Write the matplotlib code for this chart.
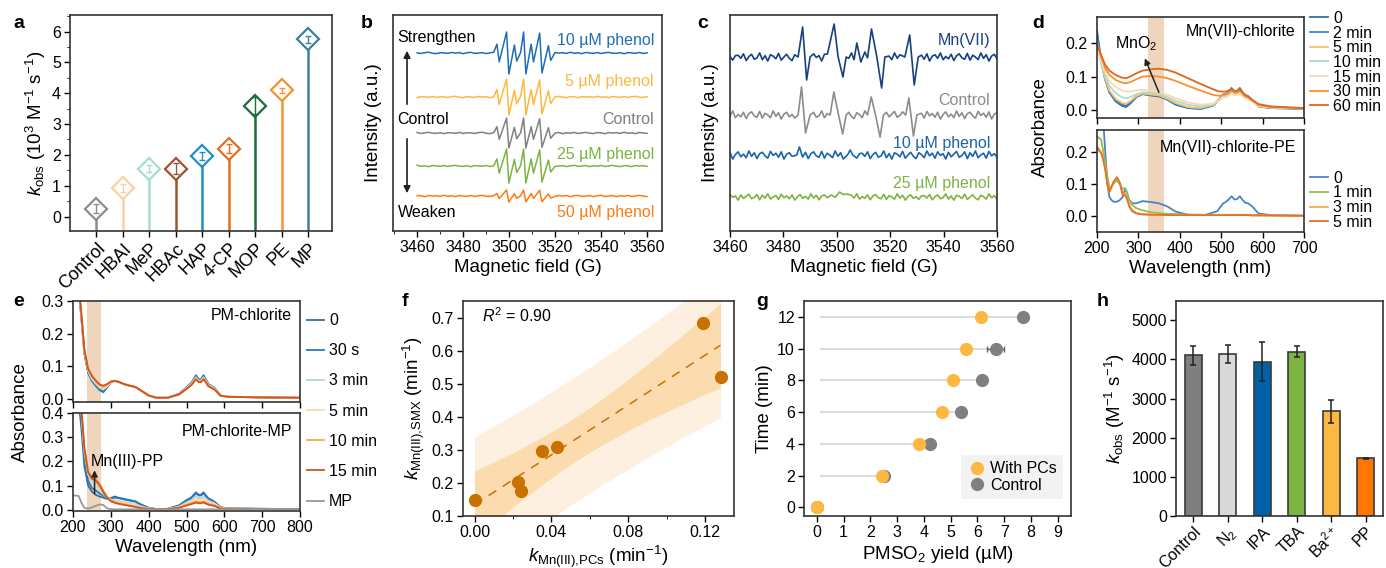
import numpy as np
import matplotlib.pyplot as plt
from matplotlib.lines import Line2D
from matplotlib.ticker import MultipleLocator

# ---------------- panel a : k_obs of phenolic compounds ----------------
A_LABELS = ["Control", "HBAI", "MeP", "HBAc", "HAP", "4-CP", "MOP", "PE", "MP"]
A_KOBS = [0.25, 0.92, 1.55, 1.55, 1.97, 2.20, 3.60, 4.10, 5.75]
A_ERR = [0.15, 0.12, 0.12, 0.18, 0.12, 0.14, 0.28, 0.08, 0.12]
A_COLORS = ["#8c8c8c", "#fdd0a2", "#a8dccf", "#a0522d", "#1f8fc8",
            "#e0701c", "#1e6b3c", "#f7922e", "#3d7f9e"]

# ---------------- panel b : EPR, DMPOX signal vs phenol ----------------
B_NAMES = ["10 µM phenol", "5 µM phenol", "Control", "25 µM phenol", "50 µM phenol"]
B_AMP = [21, 18, 15, 17, 6]
B_COLORS = ["#1f6db5", "#fdb93f", "#808080", "#7cb342", "#ff7a12"]
B_LINE_FIELD = [3495.2, 3499.4, 3502.8, 3506.8, 3510.1, 3513.8, 3517.6]
B_LINE_REL = [0.42, 1.0, 0.38, 1.0, 0.42, 0.95, 0.35]

# ---------------- panel c : EPR, Mn(VII) etc. ----------------
C_NAMES = ["Mn(VII)", "Control", "10 µM phenol", "25 µM phenol"]
C_COLORS = ["#17407f", "#8c8c8c", "#1a63ad", "#7cb342"]
C_MN7_FIELD = [3485.5, 3487.2, 3488.7, 3490.0, 3496.5, 3499.0, 3500.5, 3502.3, 3503.5,
               3505.5, 3507.5, 3509.0, 3510.5, 3513.0, 3515.0, 3516.8, 3518.0,
               3525.5, 3527.3, 3529.0, 3530.5]
C_MN7_SIG = [0, 30, -23, 0, 3, 33, 0, -20, 0, 4, 14, -5, 5, 28, 0, -31, 0, 0, 22, -28, 0]
C_CTRL_FIELD = [3485.5, 3486.8, 3488.3, 3490.0, 3497.5, 3498.9, 3500.5, 3502.2, 3503.5,
                3511.5, 3512.9, 3514.5, 3516.2, 3517.5, 3525.8, 3527.0, 3528.7, 3530.0]
C_CTRL_SIG = [0, 28, -18, 0, 0, 23, 2, -19, 0, 0, 18, 0, -22, 0, 0, 17, -21, 0]
C_P10_FIELD = [3485.0, 3486.0, 3487.2, 3504.0, 3505.0, 3506.0]
C_P10_SIG = [0, 8, -2, 0, 5, 0]
C_P25_FIELD = [3498.0, 3501.0, 3504.0]
C_P25_SIG = [2, 5, 3]

# hand-read baseline wiggle of the EPR traces (b coarse, c fine)
EPR_NOISE = [0.2, -0.6, 0.5, 0.9, -0.3, -0.8, 0.4, 0.1, -0.5, 0.7, -0.2, 0.6, -0.9, 0.3,
             0.8, -0.4, -0.1, 0.5, -0.7, 0.2, 0.9, -0.5, 0.0, 0.6, -0.8, 0.4, -0.3, 0.7,
             -0.6, 0.1, 0.8, -0.2, -0.7, 0.5, 0.3, -0.9, 0.6, -0.1, 0.4, -0.5, 0.9, -0.3,
             0.2, -0.8, 0.7, 0.0, -0.4, 0.6, -0.6, 0.3, 0.8, -0.2, -0.5, 0.4, -0.9, 0.5,
             0.1, -0.3, 0.7, -0.6, 0.2]
EPR_NOISE_FINE = [0.4, -0.3, 0.7, -0.8, 0.1, 0.6, -0.5, -0.2, 0.9, -0.6, 0.3, -0.9, 0.5, 0.2,
                  -0.4, 0.8, -0.7, 0.0, 0.6, -0.3, -0.8, 0.5, 0.1, -0.6, 0.9, -0.2, 0.4, -0.7,
                  0.7, -0.1, 0.3, -0.9, 0.6, -0.4, 0.2, 0.8, -0.5, -0.1, 0.7, -0.8, 0.5, -0.3,
                  0.9, -0.6, 0.0, 0.4, -0.7, 0.8, -0.2, 0.3, -0.5, 0.6, -0.9, 0.1, 0.7, -0.4,
                  0.2, -0.6, 0.9, -0.3, 0.5, -0.8, 0.3, 0.6, -0.2, -0.7, 0.8, -0.1, 0.4, -0.5,
                  0.7, -0.9, 0.2, 0.5, -0.3, 0.9, -0.6, 0.1, -0.4, 0.6, -0.8, 0.3, 0.7, -0.2,
                  -0.5, 0.8, -0.7, 0.4, 0.0, -0.6, 0.9, -0.3, 0.5, -0.9, 0.2, 0.6, -0.4, 0.1,
                  -0.7, 0.3]

# ---------------- panel d : UV-vis Mn(VII)-chlorite ----------------
D_TOP_WL = [200, 210, 220, 230, 245, 260, 270, 280, 295, 310, 330, 350, 370, 390, 420, 450,
            480, 495, 505, 512, 518, 525, 532, 538, 545, 552, 558, 565, 575, 590, 620, 700]
D_TOP_LABELS = ["0", "2 min", "5 min", "10 min", "15 min", "30 min", "60 min"]
D_TOP_COLORS = ["#2e6ea6", "#3a87c8", "#fdc160", "#a8dcd4", "#fdd7b0", "#fd8f2f", "#e0661c"]
D_TOP_ABS = [
    [0.240, 0.150, 0.090, 0.052, 0.025, 0.012, 0.008, 0.018, 0.038, 0.047, 0.043, 0.040, 0.030, 0.015, 0.005, 0.002,
     0.012, 0.030, 0.045, 0.046, 0.052, 0.062, 0.052, 0.053, 0.062, 0.050, 0.042, 0.040, 0.028, 0.010, 0.005, 0.003],
    [0.230, 0.145, 0.090, 0.054, 0.028, 0.016, 0.012, 0.022, 0.040, 0.048, 0.045, 0.042, 0.032, 0.017, 0.006, 0.003,
     0.013, 0.031, 0.047, 0.048, 0.055, 0.066, 0.055, 0.056, 0.066, 0.052, 0.044, 0.041, 0.029, 0.011, 0.005, 0.003],
    [0.205, 0.140, 0.092, 0.058, 0.033, 0.021, 0.018, 0.026, 0.041, 0.049, 0.046, 0.043, 0.033, 0.020, 0.008, 0.005,
     0.014, 0.030, 0.044, 0.045, 0.051, 0.059, 0.051, 0.052, 0.059, 0.048, 0.041, 0.038, 0.027, 0.011, 0.006, 0.004],
    [0.195, 0.140, 0.100, 0.072, 0.050, 0.038, 0.035, 0.038, 0.046, 0.052, 0.052, 0.048, 0.038, 0.027, 0.015, 0.010,
     0.015, 0.028, 0.040, 0.041, 0.047, 0.055, 0.048, 0.049, 0.055, 0.045, 0.039, 0.036, 0.026, 0.012, 0.007, 0.004],
    [0.200, 0.150, 0.112, 0.087, 0.068, 0.058, 0.055, 0.055, 0.058, 0.060, 0.058, 0.055, 0.045, 0.035, 0.022, 0.015,
     0.018, 0.028, 0.037, 0.038, 0.043, 0.050, 0.044, 0.045, 0.050, 0.041, 0.036, 0.033, 0.024, 0.012, 0.007, 0.004],
    [0.200, 0.160, 0.125, 0.105, 0.090, 0.082, 0.080, 0.083, 0.092, 0.100, 0.102, 0.100, 0.095, 0.087, 0.072, 0.058,
     0.045, 0.042, 0.045, 0.046, 0.050, 0.058, 0.052, 0.052, 0.058, 0.048, 0.040, 0.037, 0.028, 0.015, 0.008, 0.004],
    [0.200, 0.165, 0.135, 0.118, 0.105, 0.097, 0.095, 0.100, 0.110, 0.118, 0.122, 0.124, 0.120, 0.112, 0.095, 0.078,
     0.062, 0.055, 0.055, 0.055, 0.058, 0.062, 0.057, 0.057, 0.062, 0.052, 0.045, 0.040, 0.030, 0.017, 0.010, 0.005],
]

D_BOT_WL = [200, 205, 210, 215, 220, 225, 230, 235, 240, 248, 255, 262, 268, 272, 278, 285, 295, 310, 330, 350,
            370, 390, 420, 460, 490, 505, 512, 518, 525, 532, 538, 545, 552, 558, 565, 575, 590, 620, 700]
D_BOT_LABELS = ["0", "1 min", "3 min", "5 min"]
D_BOT_COLORS = ["#4a84c4", "#8cc152", "#fca74e", "#e8702a"]
D_BOT_ABS = [
    [0.400, 0.380, 0.350, 0.300, 0.200, 0.100, 0.060, 0.050, 0.045, 0.045, 0.050, 0.060, 0.085, 0.075, 0.050, 0.040,
     0.040, 0.047, 0.044, 0.040, 0.030, 0.014, 0.004, 0.003, 0.015, 0.040, 0.045, 0.052, 0.062, 0.052, 0.053, 0.062,
     0.050, 0.042, 0.040, 0.030, 0.008, 0.003, 0.001],
    [0.250, 0.245, 0.240, 0.205, 0.165, 0.125, 0.088, 0.092, 0.102, 0.112, 0.100, 0.085, 0.088, 0.075, 0.050, 0.035,
     0.025, 0.018, 0.012, 0.009, 0.007, 0.006, 0.005, 0.004, 0.004, 0.004, 0.004, 0.004, 0.004, 0.004, 0.004, 0.004,
     0.004, 0.004, 0.004, 0.003, 0.003, 0.002, 0.001],
    [0.220, 0.210, 0.200, 0.180, 0.150, 0.100, 0.075, 0.090, 0.105, 0.120, 0.105, 0.070, 0.070, 0.060, 0.035, 0.018,
     0.010, 0.006, 0.005, 0.004, 0.004, 0.004, 0.003, 0.003, 0.003, 0.003, 0.003, 0.003, 0.003, 0.003, 0.003, 0.003,
     0.003, 0.003, 0.003, 0.002, 0.002, 0.002, 0.001],
    [0.215, 0.205, 0.198, 0.175, 0.145, 0.100, 0.077, 0.092, 0.108, 0.122, 0.105, 0.065, 0.065, 0.055, 0.030, 0.015,
     0.008, 0.005, 0.004, 0.004, 0.003, 0.003, 0.003, 0.003, 0.003, 0.003, 0.003, 0.003, 0.003, 0.003, 0.003, 0.003,
     0.003, 0.003, 0.003, 0.002, 0.002, 0.002, 0.001],
]

# ---------------- panel e : UV-vis PM-chlorite ----------------
E_WL = [200, 215, 222, 230, 240, 250, 260, 270, 280, 290, 300, 310, 320, 335, 350, 365, 380, 400,
        420, 450, 480, 500, 512, 518, 525, 532, 538, 545, 552, 558, 565, 575, 590, 610, 700, 800]
E_LABELS = ["0", "30 s", "3 min", "5 min", "10 min", "15 min"]
E_COLORS = ["#336e9a", "#2878c0", "#a8dcd8", "#fdd5ae", "#fda745", "#d4521c"]
E_TOP_ABS = [
    [0.600, 0.340, 0.250, 0.140, 0.080, 0.055, 0.040, 0.027, 0.020, 0.035, 0.050, 0.055, 0.052, 0.045, 0.040, 0.036, 0.025, 0.010,
     0.003, 0.003, 0.015, 0.035, 0.048, 0.058, 0.072, 0.060, 0.060, 0.072, 0.058, 0.045, 0.040, 0.032, 0.010, 0.006, 0.004, 0.003],
    [0.600, 0.340, 0.250, 0.140, 0.080, 0.056, 0.042, 0.029, 0.022, 0.036, 0.050, 0.055, 0.052, 0.045, 0.040, 0.036, 0.025, 0.010,
     0.003, 0.003, 0.015, 0.035, 0.047, 0.057, 0.070, 0.059, 0.059, 0.070, 0.057, 0.044, 0.039, 0.031, 0.010, 0.006, 0.004, 0.003],
    [0.600, 0.345, 0.255, 0.145, 0.085, 0.060, 0.046, 0.034, 0.028, 0.038, 0.050, 0.055, 0.052, 0.045, 0.040, 0.036, 0.025, 0.010,
     0.003, 0.003, 0.014, 0.033, 0.045, 0.054, 0.066, 0.056, 0.056, 0.066, 0.054, 0.042, 0.038, 0.030, 0.010, 0.006, 0.004, 0.003],
    [0.600, 0.345, 0.258, 0.148, 0.088, 0.064, 0.050, 0.038, 0.032, 0.040, 0.051, 0.055, 0.052, 0.045, 0.040, 0.036, 0.025, 0.010,
     0.003, 0.003, 0.014, 0.032, 0.044, 0.052, 0.064, 0.054, 0.054, 0.064, 0.052, 0.041, 0.037, 0.029, 0.010, 0.006, 0.004, 0.003],
    [0.600, 0.350, 0.260, 0.150, 0.090, 0.068, 0.054, 0.042, 0.037, 0.043, 0.052, 0.055, 0.052, 0.045, 0.040, 0.036, 0.025, 0.010,
     0.003, 0.003, 0.013, 0.030, 0.042, 0.050, 0.061, 0.052, 0.052, 0.061, 0.050, 0.039, 0.035, 0.028, 0.009, 0.006, 0.004, 0.003],
    [0.600, 0.350, 0.262, 0.152, 0.092, 0.070, 0.056, 0.044, 0.040, 0.045, 0.053, 0.055, 0.052, 0.045, 0.040, 0.036, 0.025, 0.010,
     0.003, 0.003, 0.013, 0.030, 0.041, 0.049, 0.060, 0.051, 0.051, 0.060, 0.049, 0.038, 0.034, 0.027, 0.009, 0.006, 0.004, 0.003],
]
E_BOT_ABS = [
    [0.600, 0.450, 0.340, 0.180, 0.100, 0.075, 0.062, 0.055, 0.050, 0.045, 0.048, 0.055, 0.050, 0.045, 0.040, 0.035, 0.022, 0.008,
     0.003, 0.004, 0.018, 0.040, 0.050, 0.060, 0.072, 0.062, 0.062, 0.072, 0.058, 0.047, 0.042, 0.032, 0.010, 0.006, 0.004, 0.003],
    [0.600, 0.480, 0.380, 0.210, 0.120, 0.090, 0.080, 0.068, 0.058, 0.050, 0.047, 0.050, 0.048, 0.043, 0.038, 0.033, 0.020, 0.008,
     0.003, 0.004, 0.017, 0.038, 0.047, 0.057, 0.068, 0.059, 0.059, 0.068, 0.055, 0.045, 0.040, 0.031, 0.010, 0.006, 0.004, 0.003],
    [0.600, 0.500, 0.410, 0.240, 0.145, 0.120, 0.110, 0.090, 0.065, 0.050, 0.043, 0.040, 0.037, 0.033, 0.028, 0.022, 0.014, 0.006,
     0.003, 0.003, 0.013, 0.030, 0.039, 0.047, 0.055, 0.048, 0.048, 0.055, 0.045, 0.037, 0.033, 0.026, 0.008, 0.005, 0.004, 0.003],
    [0.600, 0.500, 0.415, 0.250, 0.150, 0.128, 0.118, 0.100, 0.070, 0.052, 0.040, 0.036, 0.033, 0.029, 0.024, 0.019, 0.012, 0.005,
     0.003, 0.003, 0.011, 0.026, 0.034, 0.041, 0.048, 0.042, 0.042, 0.048, 0.039, 0.032, 0.029, 0.023, 0.007, 0.005, 0.004, 0.003],
    [0.600, 0.500, 0.420, 0.260, 0.160, 0.135, 0.130, 0.110, 0.080, 0.055, 0.040, 0.033, 0.028, 0.023, 0.018, 0.013, 0.008, 0.004,
     0.003, 0.003, 0.009, 0.021, 0.027, 0.031, 0.036, 0.032, 0.032, 0.036, 0.030, 0.025, 0.022, 0.018, 0.006, 0.004, 0.003, 0.003],
    [0.600, 0.500, 0.420, 0.255, 0.155, 0.128, 0.122, 0.102, 0.073, 0.050, 0.035, 0.029, 0.025, 0.020, 0.016, 0.012, 0.007, 0.004,
     0.003, 0.003, 0.008, 0.018, 0.023, 0.026, 0.030, 0.027, 0.027, 0.030, 0.025, 0.021, 0.019, 0.015, 0.005, 0.004, 0.003, 0.003],
]
E_MP_ABS = [0.060, 0.057, 0.030, 0.008, 0.005, 0.010, 0.016, 0.022, 0.020, 0.006, 0.003, 0.002, 0.002, 0.002, 0.002, 0.002, 0.002, 0.002,
            0.002, 0.002, 0.002, 0.002, 0.002, 0.002, 0.002, 0.002, 0.002, 0.002, 0.002, 0.002, 0.002, 0.002, 0.002, 0.002, 0.003, 0.003]

# ---------------- panel f : correlation ----------------
F_X = [0.000, 0.0225, 0.0243, 0.0353, 0.0428, 0.1187, 0.1280]
F_Y = [0.148, 0.202, 0.177, 0.298, 0.310, 0.684, 0.520]

# ---------------- panel g : PMSO2 yield ----------------
G_TIME = [0, 2, 4, 6, 8, 10, 12]
G_WITH = [0.0, 2.45, 3.80, 4.68, 5.08, 5.57, 6.14]
G_WITH_ERR = [0.0, 0.05, 0.05, 0.05, 0.05, 0.05, 0.05]
G_CTRL = [0.0, 2.52, 4.23, 5.38, 6.18, 6.68, 7.72]
G_CTRL_ERR = [0.0, 0.05, 0.05, 0.05, 0.05, 0.32, 0.05]

# ---------------- panel h : scavengers ----------------
H_LABELS = ["Control", "N$_2$", "IPA", "TBA", "Ba$^{2+}$", "PP"]
H_KOBS = [4100, 4130, 3940, 4200, 2670, 1470]
H_ERR = [250, 230, 500, 140, 290, 15]
H_COLORS = ["#7f7f7f", "#d9d9d9", "#0060a8", "#7cb342", "#fdb93f", "#ff7600"]

W, H = 1386, 568
LABEL_FS = 13.5
CAT_FS = 13


def px_axes(fig, left, right, top, bottom):
    """Add axes from pixel edges of the reference picture."""
    return fig.add_axes([left / W, 1 - bottom / H, (right - left) / W, (bottom - top) / H])


def epr_trace(base, noise_vals, scale, peak_x, peak_y, shift, gap):
    noise = np.roll(np.array(noise_vals), shift) * scale
    nx = np.linspace(3460, 3560, len(noise))
    px = np.array(peak_x, dtype=float)
    keep = np.array([np.all(np.abs(px - v) > gap) for v in nx])
    x = np.concatenate([nx[keep], px])
    y = np.concatenate([noise[keep], np.array(peak_y, dtype=float)])
    order = np.argsort(x)
    return x[order], base + y[order]


def draw_a(ax):
    x = np.arange(len(A_LABELS))
    bottom = -0.47
    ax.vlines(x, bottom, A_KOBS, colors=A_COLORS, lw=1.8, zorder=1)
    for xi, v, e, c in zip(x, A_KOBS, A_ERR, A_COLORS):
        ax.plot(xi, v, marker="D", ms=11, mfc="white", mec=c, mew=1.6, zorder=2)
        ax.errorbar(xi, v, yerr=e, color=c, capsize=2.5, lw=1, capthick=1, zorder=3)
    ax.set_xlim(-1, 8.9)
    ax.set_ylim(bottom, 6.54)
    ax.set_xticks(x)
    ax.set_xticklabels(A_LABELS, rotation=45, ha="right", rotation_mode="anchor", fontsize=CAT_FS)
    ax.set_yticks(range(7))
    ax.yaxis.set_minor_locator(MultipleLocator(0.5))
    ax.set_ylabel(r"$k_{\rm obs}$ (10$^3$ M$^{-1}$ s$^{-1}$)")


def draw_b(ax):
    base = [178, 134, 98, 65, 35]
    label_y = [191, 150, 112, 77, 19]
    for i, (name, amp, c) in enumerate(zip(B_NAMES, B_AMP, B_COLORS)):
        px, py = [], []
        for f, r in zip(B_LINE_FIELD, B_LINE_REL):
            px += [f - 0.5, f + 0.5]
            py += [amp * r, -amp * r]
        x, y = epr_trace(base[i], EPR_NOISE, 0.8, px, py, 7 * i, 1.2)
        ax.plot(x, y, color=c, lw=1.1)
        ax.text(3563, label_y[i], name, color=c, ha="right", va="center")
    ax.text(3451.5, 194, "Strengthen", ha="left", va="center")
    ax.text(3451.5, 112, "Control", ha="left", va="center")
    ax.text(3451.5, 19, "Weaken", ha="left", va="center")
    ax.annotate("", xy=(3455.6, 183), xytext=(3455.6, 124),
                arrowprops=dict(arrowstyle="-|>", color="#222222", lw=1.2, mutation_scale=10))
    ax.annotate("", xy=(3455.6, 35), xytext=(3455.6, 95),
                arrowprops=dict(arrowstyle="-|>", color="#222222", lw=1.2, mutation_scale=10))
    ax.set_xlim(3449.5, 3566.5)
    ax.set_ylim(0, 216)
    ax.set_yticks([])
    ax.set_xticks(range(3460, 3561, 20))
    ax.xaxis.set_minor_locator(MultipleLocator(10))
    ax.set_xlabel("Magnetic field (G)")
    ax.set_ylabel("Intensity (a.u.)", labelpad=8)


def draw_c(ax):
    base = [174, 116, 76, 34]
    label_y = [191, 131, 88, 48]
    peaks = [(C_MN7_FIELD, C_MN7_SIG), (C_CTRL_FIELD, C_CTRL_SIG),
             (C_P10_FIELD, C_P10_SIG), (C_P25_FIELD, C_P25_SIG)]
    scales = [4.5, 4.5, 4.5, 3.5]
    for i, (name, c) in enumerate(zip(C_NAMES, C_COLORS)):
        x, y = epr_trace(base[i], EPR_NOISE_FINE, scales[i], peaks[i][0], peaks[i][1], 23 * i + 3, 0.9)
        ax.plot(x, y, color=c, lw=1.2)
        ax.text(3557.5, label_y[i], name, color=c, ha="right", va="center")
    ax.set_xlim(3460, 3560)
    ax.set_ylim(0, 216)
    ax.set_yticks([])
    ax.set_xticks(range(3460, 3561, 20))
    ax.set_xlabel("Magnetic field (G)")
    ax.set_ylabel("Intensity (a.u.)", labelpad=8)


def draw_d(ax1, ax2, fig):
    for ax in (ax1, ax2):
        ax.axvspan(323, 362, color="#efd5bb", lw=0, zorder=0)
        ax.set_xlim(200, 700)
        ax.set_xticks(range(200, 701, 100))
    for vals, lab, c in zip(D_TOP_ABS, D_TOP_LABELS, D_TOP_COLORS):
        ax1.plot(D_TOP_WL, vals, color=c, lw=1.3, label=lab)
    for vals, lab, c in zip(D_BOT_ABS, D_BOT_LABELS, D_BOT_COLORS):
        ax2.plot(D_BOT_WL, vals, color=c, lw=1.3, label=lab)
    ax1.set_ylim(-0.025, 0.28)
    ax2.set_ylim(-0.05, 0.27)
    for ax in (ax1, ax2):
        ax.set_yticks([0.0, 0.1, 0.2])
        ax.set_yticklabels(["0.0", "0.1", "0.2"])
    ax1.tick_params(labelbottom=False)
    ax1.text(0.96, 0.86, "Mn(VII)-chlorite", transform=ax1.transAxes, ha="right", va="center")
    ax2.text(0.96, 0.83, "Mn(VII)-chlorite-PE", transform=ax2.transAxes, ha="right", va="center")
    ax1.text(295, 0.2, "MnO$_2$", ha="center", va="center")
    ax1.annotate("", xy=(313, 0.163), xytext=(352, 0.045),
                 arrowprops=dict(arrowstyle="-|>", color="#222222", lw=1.1, mutation_scale=9))
    ax2.set_xlabel("Wavelength (nm)")
    leg_kw = dict(loc="upper left", borderaxespad=0, borderpad=0, handlelength=1.1,
                  handletextpad=0.35, labelspacing=-0.02, frameon=False)
    ax1.legend(bbox_to_anchor=(1.03, 1.06), **leg_kw)
    ax2.legend(bbox_to_anchor=(1.03, 0.6), **leg_kw)
    fig.text(1040 / W, 1 - 127 / H, "Absorbance", rotation=90, ha="center", va="center",
             fontsize=LABEL_FS)


def draw_e(ax1, ax2, fig):
    for ax in (ax1, ax2):
        ax.axvspan(238, 274, color="#efd5bb", lw=0, zorder=0)
        ax.set_xlim(200, 800)
        ax.set_xticks(range(200, 801, 100))
    for vals, lab, c in zip(E_TOP_ABS, E_LABELS, E_COLORS):
        ax1.plot(E_WL, vals, color=c, lw=1.3, label=lab)
    for vals, lab, c in zip(E_BOT_ABS, E_LABELS, E_COLORS):
        ax2.plot(E_WL, vals, color=c, lw=1.3)
    ax2.plot(E_WL, E_MP_ABS, color="#999999", lw=1.3)
    ax1.plot([], [], color="#999999", lw=1.3, label="MP")
    ax1.set_ylim(-0.01, 0.3)
    ax1.set_yticks([0.0, 0.1, 0.2, 0.3])
    ax1.set_yticklabels(["0.0", "0.1", "0.2", "0.3"])
    ax2.set_ylim(-0.005, 0.4)
    ax2.set_yticks([0.0, 0.1, 0.2, 0.3, 0.4])
    ax2.set_yticklabels(["0.0", "0.1", "0.2", "0.3", "0.4"])
    ax1.tick_params(labelbottom=False)
    ax1.text(0.965, 0.86, "PM-chlorite", transform=ax1.transAxes, ha="right", va="center")
    ax2.text(0.965, 0.81, "PM-chlorite-MP", transform=ax2.transAxes, ha="right", va="center")
    ax2.text(248, 0.2, "Mn(III)-PP", ha="left", va="center")
    ax2.annotate("", xy=(257, 0.175), xytext=(257, 0.055),
                 arrowprops=dict(arrowstyle="-|>", color="#222222", lw=1.1, mutation_scale=9))
    ax2.set_xlabel("Wavelength (nm)")
    ax1.legend(loc="upper left", bbox_to_anchor=(1.03, 0.88), borderaxespad=0, borderpad=0,
               handlelength=1.1, handletextpad=0.3, labelspacing=0.95, frameon=False)
    fig.text(20 / W, 1 - 412 / H, "Absorbance", rotation=90, ha="center", va="center",
             fontsize=LABEL_FS)


def draw_f(ax):
    x = np.array(F_X)
    y = np.array(F_Y)
    n = len(x)
    slope, icpt = np.polyfit(x, y, 1)
    fit = slope * x + icpt
    r2 = 1 - np.sum((y - fit) ** 2) / np.sum((y - y.mean()) ** 2)
    s = np.sqrt(np.sum((y - fit) ** 2) / (n - 2))
    sxx = np.sum((x - x.mean()) ** 2)
    xs = np.linspace(x.min(), x.max(), 120)
    ys = slope * xs + icpt
    t = 2.571  # t(0.975, n-2)
    conf = t * s * np.sqrt(1 / n + (xs - x.mean()) ** 2 / sxx)
    pred = t * s * np.sqrt(1 + 1 / n + (xs - x.mean()) ** 2 / sxx)
    ax.fill_between(xs, ys - pred, ys + pred, color="#fdf0e0", lw=0, zorder=0)
    ax.fill_between(xs, ys - conf, ys + conf, color="#fcdcae", lw=0, zorder=1)
    ax.plot(xs, ys, ls=(0, (6, 5)), color="#c87000", lw=1.1, zorder=2)
    ax.plot(x, y, "o", ms=8.5, color="#c87000", zorder=3)
    ax.text(0.07, 0.93, f"$R^2$ = {r2:.2f}", transform=ax.transAxes, ha="left", va="center")
    ax.set_xlim(-0.006, 0.135)
    ax.set_ylim(0.1, 0.75)
    ax.set_xticks([0.0, 0.04, 0.08, 0.12])
    ax.set_xticklabels(["0.00", "0.04", "0.08", "0.12"])
    ax.xaxis.set_minor_locator(MultipleLocator(0.02))
    ax.set_yticks([0.1, 0.2, 0.3, 0.4, 0.5, 0.6, 0.7])
    ax.set_xlabel(r"$k_{\rm Mn(III){,}PCs}$ (min$^{-1}$)")
    ax.set_ylabel(r"$k_{\rm Mn(III){,}SMX}$ (min$^{-1}$)")


def draw_g(ax):
    ax.hlines(G_TIME[1:], 0.1, G_CTRL[1:], color="#dcdcdc", lw=1.5, zorder=0)
    ax.errorbar(G_CTRL, G_TIME, xerr=G_CTRL_ERR, fmt="o", ms=8.5, color="#808080",
                ecolor="#606060", elinewidth=1, capsize=2, zorder=2)
    ax.errorbar(G_WITH, G_TIME, xerr=G_WITH_ERR, fmt="o", ms=8.5, color="#fdb93f",
                ecolor="#c08a20", elinewidth=1, capsize=2, zorder=3)
    handles = [Line2D([], [], ls="none", marker="o", ms=8.5, color="#fdb93f"),
               Line2D([], [], ls="none", marker="o", ms=8.5, color="#808080")]
    leg = ax.legend(handles, ["With PCs", "Control"], loc="lower right", bbox_to_anchor=(1.0, 0.04),
                    frameon=True, fancybox=False, facecolor="#f2f2f2", edgecolor="none",
                    framealpha=1, handletextpad=0.2, borderpad=0.4, labelspacing=0.1,
                    handlelength=1.2)
    leg.set_zorder(5)
    ax.set_xlim(-0.48, 9.5)
    ax.set_ylim(-0.55, 13)
    ax.set_xticks(range(10))
    ax.set_yticks(range(0, 13, 2))
    ax.set_xlabel("PMSO$_2$ yield (µM)")
    ax.set_ylabel("Time (min)")


def draw_h(ax):
    x = np.arange(len(H_LABELS))
    ax.bar(x, H_KOBS, width=0.5, color=H_COLORS, edgecolor="#3a3a3a", lw=1.2,
           yerr=H_ERR, capsize=2.5, error_kw=dict(ecolor="#222222", elinewidth=1.1, capthick=1.1))
    ax.set_xlim(-0.5, 5.5)
    ax.set_ylim(0, 5490)
    ax.set_xticks(x)
    ax.set_xticklabels(H_LABELS, rotation=45, ha="right", rotation_mode="anchor", fontsize=11.5)
    ax.tick_params(axis="x", pad=1.5)
    ax.set_yticks(range(0, 5001, 1000))
    ax.set_ylabel(r"$k_{\rm obs}$ (M$^{-1}$ s$^{-1}$)")


def main():
    plt.rcParams.update({
        "font.family": ["Liberation Sans", "DejaVu Sans"],
        "font.size": 11.5,
        "axes.labelsize": LABEL_FS,
        "axes.linewidth": 1.2,
        "axes.edgecolor": "#333333",
        "xtick.major.size": 4, "ytick.major.size": 4,
        "xtick.minor.size": 2.2, "ytick.minor.size": 2.2,
        "xtick.major.width": 1.0, "ytick.major.width": 1.0,
        "xtick.major.pad": 2.5, "ytick.major.pad": 2.5,
        "axes.labelpad": 3,
        "mathtext.fontset": "custom",
        "mathtext.rm": "Liberation Sans",
        "mathtext.it": "Liberation Sans:italic",
        "mathtext.bf": "Liberation Sans:bold",
    })

    fig = plt.figure(figsize=(W / 100, H / 100), dpi=100)

    ax_a = px_axes(fig, 70, 332, 15, 231)
    ax_b = px_axes(fig, 393, 662, 15, 231)
    ax_c = px_axes(fig, 730, 997, 15, 231)
    ax_d1 = px_axes(fig, 1097, 1304, 17, 118)
    ax_d2 = px_axes(fig, 1097, 1304, 130, 232)
    ax_e1 = px_axes(fig, 73, 300, 301, 402)
    ax_e2 = px_axes(fig, 73, 300, 413, 511)
    ax_f = px_axes(fig, 463, 734, 301, 516)
    ax_g = px_axes(fig, 804, 1071, 301, 516)
    ax_h = px_axes(fig, 1176, 1383, 301, 516)

    draw_a(ax_a)
    draw_b(ax_b)
    draw_c(ax_c)
    draw_d(ax_d1, ax_d2, fig)
    draw_e(ax_e1, ax_e2, fig)
    draw_f(ax_f)
    draw_g(ax_g)
    draw_h(ax_h)

    # panel letters
    for letter, xp, yp in [("a", 13, 28), ("b", 361, 28), ("c", 697, 28), ("d", 1032, 28),
                           ("e", 13, 306), ("f", 402, 306), ("g", 756, 306), ("h", 1097, 306)]:
        fig.text(xp / W, 1 - yp / H, letter, fontsize=14, fontweight="bold", va="baseline")

    plt.savefig("out.png", dpi=100)
    plt.close()


if __name__ == "__main__":
    main()
